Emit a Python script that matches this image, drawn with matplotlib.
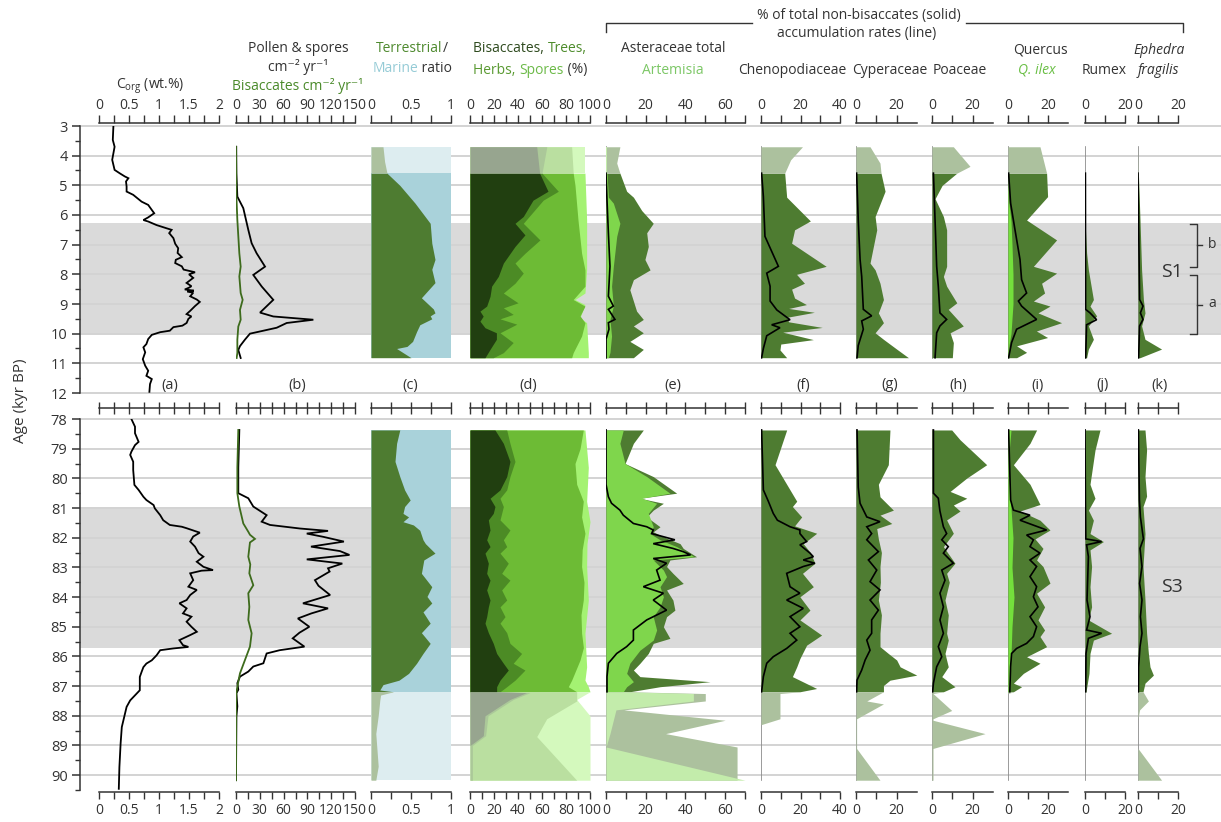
import numpy as np
import matplotlib
matplotlib.use("Agg")
import matplotlib.pyplot as plt
from matplotlib.lines import Line2D

# ---------------- data: (age kyr BP, value) ----------------
# (a) organic carbon, wt.%
corg_top = [(3.0, 0.24), (3.47, 0.23), (3.7, 0.26), (3.92, 0.24), (4.14, 0.22), (4.48, 0.26), (4.6, 0.35),
            (4.7, 0.43), (4.76, 0.49), (4.87, 0.45), (5.04, 0.46), (5.21, 0.46), (5.32, 0.57), (5.55, 0.71),
            (5.66, 0.82), (5.83, 0.88), (5.94, 0.92), (6.08, 0.82), (6.17, 0.74), (6.22, 0.82), (6.34, 0.96),
            (6.45, 1.13), (6.5, 1.21), (6.61, 1.17), (6.78, 1.24), (6.97, 1.27), (7.12, 1.32), (7.28, 1.31),
            (7.42, 1.38), (7.51, 1.28), (7.62, 1.27), (7.73, 1.38), (7.84, 1.41), (7.93, 1.6), (8.0, 1.5),
            (8.12, 1.57), (8.29, 1.46), (8.4, 1.54), (8.45, 1.5), (8.51, 1.43), (8.55, 1.58), (8.58, 1.47),
            (8.62, 1.57), (8.74, 1.52), (8.85, 1.63), (8.93, 1.68), (9.07, 1.6), (9.23, 1.52), (9.34, 1.46),
            (9.42, 1.54), (9.5, 1.49), (9.64, 1.46), (9.73, 1.39), (9.78, 1.24), (9.9, 1.18), (9.95, 1.02),
            (10.04, 0.88), (10.18, 0.82), (10.35, 0.79), (10.46, 0.74), (10.63, 0.77), (10.86, 0.73),
            (11.08, 0.77), (11.25, 0.82), (11.42, 0.79), (11.53, 0.88), (11.7, 0.85), (11.96, 0.84)]
corg_bot = [(78.0, 0.54), (78.26, 0.6), (78.48, 0.6), (78.77, 0.66), (78.88, 0.6), (79.1, 0.54), (79.21, 0.52),
            (79.44, 0.57), (79.72, 0.57), (80.22, 0.59), (80.39, 0.66), (80.62, 0.74), (80.73, 0.79),
            (80.9, 0.91), (81.01, 0.93), (81.24, 1.02), (81.41, 1.07), (81.57, 1.18), (81.63, 1.38),
            (81.68, 1.46), (81.83, 1.68), (81.96, 1.57), (82.13, 1.52), (82.3, 1.6), (82.52, 1.66),
            (82.64, 1.74), (82.81, 1.63), (82.98, 1.74), (83.09, 1.9), (83.11, 1.71), (83.2, 1.52),
            (83.43, 1.57), (83.65, 1.49), (83.76, 1.63), (83.93, 1.52), (84.1, 1.46), (84.21, 1.34),
            (84.38, 1.46), (84.55, 1.4), (84.66, 1.54), (84.83, 1.46), (85.0, 1.54), (85.17, 1.63),
            (85.28, 1.52), (85.45, 1.34), (85.62, 1.4), (85.68, 1.49), (85.73, 1.24), (85.79, 1.02),
            (85.96, 0.96), (86.13, 0.88), (86.24, 0.79), (86.36, 0.74), (86.52, 0.71), (86.69, 0.68),
            (87.14, 0.68), (87.31, 0.6), (87.48, 0.52), (87.7, 0.46), (88.04, 0.42), (88.38, 0.38),
            (88.94, 0.36), (89.73, 0.34), (90.46, 0.33)]

# (b) pollen & spores and bisaccate accumulation rates, grains cm-2 yr-1
pollen_top = [(3.7, 0.3), (4.6, 0.5), (5.38, 1.7), (5.77, 9.2), (6.5, 15.5), (6.95, 19.7), (7.29, 26),
              (7.74, 36.6), (8.02, 21.8), (8.41, 32.4), (8.86, 47), (9.29, 30.3), (9.42, 47), (9.53, 97.5),
              (9.64, 63.9), (9.8, 51.3), (9.9, 34.5), (10.0, 17.6), (10.2, 11.3), (10.42, 5), (10.55, 2.9),
              (10.82, 5.9)]
bisacc_top = [(3.7, 0), (5.38, 0.5), (6.17, 1.7), (7.29, 4.2), (7.74, 5.9), (8.07, 4.2), (8.63, 5.9),
              (8.86, 8.4), (9.2, 5), (9.53, 5.9), (9.76, 2.9), (10.2, 1.7), (10.65, 1.7), (10.82, 0.8)]
pollen_bot = [(78.37, 4.2), (79.63, 2.9), (80.5, 2.9), (80.67, 15.5), (80.95, 21.8), (81.24, 38.6),
              (81.46, 32.4), (81.57, 42.9), (81.69, 80.7), (81.77, 116), (81.86, 89.2), (81.97, 110),
              (82.13, 136), (82.3, 94.5), (82.45, 131), (82.58, 143), (82.73, 89.2), (82.87, 134),
              (83.03, 116), (83.14, 118), (83.43, 99.5), (83.62, 104), (83.93, 118.6), (84.21, 84.4),
              (84.38, 116), (84.55, 95), (84.72, 78), (85.0, 92.4), (85.2, 80), (85.39, 71.5),
              (85.67, 86.2), (85.79, 55), (85.9, 38.6), (86.23, 34.5), (86.34, 21.8), (86.51, 15.5),
              (86.68, 5), (86.9, 1.7), (87.12, 2.9), (87.24, 0.5), (87.68, 1.7), (88.02, 0.5), (90.17, 0)]
bisacc_bot = [(78.37, 2.9), (79.63, 1.7), (80.5, 1.7), (80.95, 4.2), (81.52, 9.2), (81.8, 15.5),
              (81.9, 17.6), (82.04, 23.9), (82.16, 17.6), (82.64, 15.5), (82.9, 18), (83.2, 16.8),
              (83.6, 21.8), (83.87, 15.5), (84.33, 16.8), (84.77, 15.5), (85.22, 19.7), (85.67, 17.6),
              (86.12, 11.3), (86.57, 5), (87.02, 1.7), (87.24, 0.3), (90.17, 0)]

# (c) terrestrial / marine ratio (terrestrial share)
terr_top = [(3.7, 0.15), (4.2, 0.17), (4.59, 0.2), (5.0, 0.36), (5.6, 0.55), (6.28, 0.74), (6.95, 0.76),
            (7.5, 0.8), (7.83, 0.76), (8.28, 0.8), (8.79, 0.63), (9.17, 0.78), (9.3, 0.8), (9.4, 0.74),
            (9.5, 0.76), (9.7, 0.61), (9.93, 0.57), (10.26, 0.52), (10.43, 0.45), (10.5, 0.32),
            (10.81, 0.5)]
terr_bot = [(78.37, 0.36), (78.82, 0.32), (79.43, 0.3), (79.94, 0.36), (80.39, 0.42), (80.73, 0.49),
            (80.95, 0.42), (81.18, 0.4), (81.3, 0.47), (81.46, 0.4), (81.57, 0.53), (81.75, 0.61),
            (82.07, 0.65), (82.2, 0.68), (82.52, 0.8), (82.75, 0.66), (83.2, 0.63), (83.65, 0.76),
            (83.98, 0.7), (84.2, 0.76), (84.5, 0.65), (84.88, 0.74), (85.2, 0.63), (85.56, 0.74),
            (85.9, 0.65), (86.23, 0.57), (86.57, 0.47), (86.8, 0.35), (86.95, 0.15), (87.13, 0.11),
            (87.19, 0.28), (87.3, 0.12), (87.48, 0.11), (88.0, 0.09), (88.6, 0.06), (89.7, 0.09),
            (90.17, 0.06)]

# (d) cumulative %: bisaccates, +trees, +herbs, +spores
bis_top = [(3.7, 55.6), (4.59, 58), (5.2, 65), (5.5, 52.5), (6.05, 44.4), (6.28, 37.5), (6.67, 45.8),
           (7.06, 37.5), (7.62, 27.8), (8.07, 23.6), (8.4, 18), (8.74, 16.7), (9.07, 13.9), (9.24, 8.3),
           (9.41, 11), (9.58, 8.3), (9.8, 12.5), (9.97, 22), (10.19, 22), (10.53, 16.7), (10.81, 12.5)]
trees_top = [(3.7, 64), (4.59, 60), (5.2, 73.6), (5.5, 61), (6.28, 44.4), (6.84, 58.3), (7.29, 45.8),
             (7.62, 37.5), (7.96, 44.4), (8.3, 37.5), (8.63, 27.8), (8.96, 40), (9.13, 27.8), (9.35, 36),
             (9.5, 25), (9.68, 39), (9.97, 25), (10.3, 36), (10.64, 27.8), (10.81, 19.4)]
herbs_top = [(3.7, 84.7), (4.59, 86), (5.0, 87.5), (6.17, 90), (7.29, 93), (7.85, 95.8), (8.4, 95.8),
             (8.85, 86), (9.07, 95.8), (9.4, 91.7), (9.63, 95.8), (10.08, 93), (10.64, 86), (10.81, 84.7)]
spores_top = [(3.7, 95.8), (4.59, 95.8), (6.17, 97.2), (7.85, 97.2), (8.63, 95.8), (8.85, 87.5),
              (9.02, 95.8), (9.46, 91.7), (9.63, 97.2), (10.64, 98.6), (10.81, 98.6)]
bis_bot = [(78.37, 20.8), (78.82, 27.8), (79.43, 33.3), (79.94, 30.6), (80.39, 25), (80.67, 16.7),
           (80.95, 20.8), (81.18, 19.4), (81.4, 15.3), (81.74, 16.7), (82.07, 13.9), (82.3, 16.7),
           (82.52, 12.5), (82.86, 15.3), (83.2, 13.9), (83.43, 16.7), (83.76, 13.9), (84.1, 16.7),
           (84.33, 15.3), (84.66, 13.9), (84.88, 12.5), (85.2, 15.3), (85.56, 19.4), (85.9, 22.2),
           (86.23, 27.8), (86.46, 31.9), (86.8, 25), (87.02, 22.2), (87.19, 22.2), (87.22, 47),
           (87.45, 33.3), (88.0, 12.5), (88.67, 11.1), (89.0, 0), (90.17, 0)]
trees_bot = [(78.37, 30.6), (78.82, 33.3), (79.43, 37.5), (79.94, 33.3), (80.39, 30.6), (80.67, 25),
             (80.95, 27.8), (81.4, 25), (81.74, 33.3), (82.07, 27.8), (82.3, 30.6), (82.52, 25),
             (82.86, 31.9), (83.2, 26.4), (83.43, 33.3), (83.76, 26.4), (84.1, 30.6), (84.33, 25),
             (84.66, 29.2), (84.88, 25), (85.2, 30.6), (85.56, 33.3), (85.9, 43), (86.23, 36),
             (86.46, 45.8), (86.8, 37.5), (87.02, 30.6), (87.19, 25), (87.22, 50), (87.45, 36),
             (88.0, 15), (88.67, 13), (89.0, 2), (90.17, 2)]
herbs_bot = [(78.37, 94.4), (79.0, 91.7), (79.5, 87.5), (80.2, 88.9), (80.77, 94.4), (81.3, 93),
             (81.85, 95.8), (82.4, 93.5), (82.97, 93), (83.5, 95), (84.1, 94.4), (84.6, 92.5),
             (85.22, 93), (85.7, 94.5), (86.12, 91.7), (86.8, 84.7), (87.02, 81.9), (87.19, 88.9),
             (87.5, 88.9), (88.1, 63.9), (88.7, 55.6), (90.17, 88.9)]
spores_bot = [(78.37, 95.8), (79.63, 98.6), (80.77, 97.2), (81.46, 100), (82.2, 97.5), (82.97, 97.2),
              (84.1, 98.6), (85.22, 95.8), (86.35, 97.2), (86.8, 95.8), (87.02, 98.6), (87.19, 100),
              (87.45, 88.9), (88.0, 100), (90.17, 100)]

# (e) Asteraceae total, Artemisia (%), and accumulation rate
aster_top = [(3.7, 7), (4.25, 5.4), (4.59, 7), (5.2, 10.4), (5.4, 13.8), (5.85, 18), (6.28, 23.8),
             (6.6, 20.5), (7.06, 21.3), (7.5, 19.6), (7.85, 22.2), (8.18, 13.8), (8.52, 12), (8.9, 13.8),
             (9.24, 15.4), (9.52, 18.8), (9.74, 13.8), (9.97, 18.8), (10.26, 12), (10.53, 18.8),
             (10.81, 13.8)]
artem_top = [(3.7, 0.5), (4.59, 0.5), (5.4, 1.2), (5.6, 3.7), (6.28, 7), (6.72, 5.4), (7.73, 3.7),
             (8.4, 2.8), (9.07, 3.7), (9.52, 2), (10.08, 2.8), (10.63, 2), (10.81, 1.2)]
aster_acc_top = [(4.59, 0), (5.5, 0.5), (6.61, 1.2), (7.73, 2), (8.74, 1.2), (9.07, 3.7), (9.18, 1.2),
                 (9.52, 4.5), (9.63, 1.2), (9.85, 1.5), (10.19, 0), (10.81, 0)]
aster_bot = [(78.37, 18.8), (78.82, 13.8), (79.5, 9.6), (79.94, 23.8), (80.5, 35.6), (80.67, 17.1),
             (80.84, 28.9), (81.07, 23.8), (81.3, 20.5), (81.63, 27.2), (81.8, 23.8), (81.97, 28.9),
             (82.2, 37.3), (82.36, 38.9), (82.64, 45.6), (82.75, 32.2), (82.97, 30.5), (83.2, 33.7),
             (83.54, 38.9), (83.76, 30.5), (84.1, 33.7), (84.44, 34.7), (84.66, 30.5), (85.0, 28.9),
             (85.39, 32.2), (85.56, 23.8), (85.9, 21.3), (86.23, 17.1), (86.46, 13.8), (86.68, 17.1),
             (86.85, 52.4), (87.02, 27.2), (87.19, 12), (87.25, 50), (87.5, 50), (87.8, 9),
             (88.15, 60), (88.6, 30), (89.05, 66), (90.17, 66)]
artem_bot = [(78.37, 8.7), (78.82, 7), (79.5, 9.6), (79.94, 20.5), (80.5, 32.2), (80.67, 18),
             (80.84, 25.5), (81.18, 21.3), (81.63, 23.8), (81.86, 22.2), (82.07, 27.2), (82.3, 35.6),
             (82.64, 44.3), (82.75, 23.8), (83.09, 28.9), (83.31, 30.5), (83.65, 27.2), (83.99, 28.9),
             (84.33, 27.2), (84.66, 23.8), (85.11, 25.5), (85.45, 23.8), (85.79, 17.1), (86.23, 12),
             (86.57, 10.4), (86.85, 13.8), (87.02, 10.4), (87.19, 8.7), (87.25, 44), (87.5, 44),
             (87.8, 5), (88.6, 2), (89.05, 0), (90.17, 70)]
aster_acc_bot = [(78.37, 0), (80.2, 0), (80.62, 1.2), (80.84, 2.8), (81.07, 7), (81.24, 8.7),
                 (81.52, 13.8), (81.63, 20.5), (81.74, 23.8), (81.86, 23), (82.07, 34.7), (82.2, 23.8),
                 (82.36, 33.7), (82.47, 38.9), (82.58, 42.6), (82.7, 23.8), (82.86, 30.5), (83.09, 25.5),
                 (83.43, 27.2), (83.65, 18.8), (83.87, 28.9), (84.1, 23.8), (84.44, 30.5), (84.77, 20.5),
                 (85.11, 13.8), (85.45, 13.8), (85.67, 10.4), (85.9, 5.4), (86.23, 1.2), (86.68, 0.5),
                 (87.19, 0.5)]

# (f) Chenopodiaceae
cheno_top = [(3.7, 21), (4.14, 15), (4.59, 12), (5.4, 13), (6.2, 25), (6.5, 17), (6.95, 15.5), (7.73, 33),
             (8.0, 18), (8.3, 22), (8.5, 15.5), (8.8, 17), (9.02, 23), (9.15, 14), (9.28, 27), (9.45, 13),
             (9.6, 14), (9.79, 31), (9.95, 11), (10.2, 26.5), (10.35, 10), (10.55, 9.6), (10.81, 13)]
cheno_acc_top = [(4.59, 0.3), (5.38, 1.2), (6.72, 2), (7.73, 8.8), (7.96, 2.9), (8.4, 4.6), (8.9, 4.6),
                 (9.2, 8), (9.53, 14.7), (9.7, 5.4), (9.8, 9.6), (10.07, 2.9), (10.5, 1.2), (10.81, 0.3)]
cheno_bot = [(78.37, 13), (79.54, 7.1), (80.77, 18.1), (80.95, 15.9), (81.3, 20.6), (81.6, 17),
             (81.85, 28.2), (82.2, 21.4), (82.5, 25), (82.86, 27.3), (83.2, 21), (83.65, 26.5),
             (83.99, 19.7), (84.44, 24.8), (84.77, 19.7), (85.28, 30.7), (85.62, 23.1), (86.07, 19.7),
             (86.35, 18.1), (86.68, 15.9), (87.08, 28.2), (87.19, 19.7), (87.25, 9.6), (88.1, 9.6),
             (88.3, 0), (90.17, 0)]
cheno_acc_bot = [(78.37, 0.3), (80.39, 1.2), (80.77, 3.7), (81.18, 6.2), (81.41, 8.3), (81.63, 14.7),
                 (81.74, 19.7), (81.86, 19.7), (82.13, 23.1), (82.24, 19.7), (82.52, 24.8), (82.64, 26.5),
                 (82.75, 21.4), (82.86, 27.3), (82.97, 21.4), (83.2, 13), (83.65, 14.7), (83.87, 19.7),
                 (84.1, 13), (84.38, 21.4), (84.66, 14.7), (85.0, 19.7), (85.22, 14.7), (85.45, 18.1),
                 (85.73, 13), (86.01, 6.2), (86.23, 2.9), (86.68, 1.2), (87.19, 0.3)]

# (g) Cyperaceae
cyper_top = [(3.7, 6.9), (4.25, 11.8), (4.59, 12.3), (5.2, 14.3), (6.05, 9.4), (6.5, 10.2), (7.62, 6.9),
             (7.85, 9.4), (8.3, 11.8), (8.85, 13.5), (9.3, 11), (9.63, 13.5), (9.97, 9.4), (10.19, 13.5),
             (10.52, 20), (10.81, 25.8)]
cyper_acc_top = [(4.59, 0.3), (6.17, 1.1), (7.5, 2), (8.07, 2.8), (9.18, 3.6), (9.4, 7.7), (9.57, 2.8),
                 (9.85, 3.6), (10.4, 1.1), (10.81, 0.5)]
cyper_bot = [(78.37, 16.7), (79.54, 15.9), (80.2, 11), (80.62, 11.8), (81.07, 18.4), (81.24, 11.8),
             (81.52, 17.6), (81.69, 10.2), (82.04, 11), (82.5, 12.5), (82.97, 11.8), (83.5, 12),
             (84.1, 11), (84.6, 12.5), (85.22, 11.8), (85.67, 11.8), (85.9, 15.9), (86.12, 20),
             (86.35, 21.7), (86.63, 29.9), (86.8, 16.7), (86.98, 13.5), (87.19, 13.5), (87.5, 5.3),
             (87.6, 13.5), (88.1, 0.3), (89.1, 0.3), (90.17, 11.8)]
cyper_acc_bot = [(78.37, 0.5), (80.3, 1.1), (80.84, 2), (81.3, 5.3), (81.46, 11.8), (81.63, 5.3),
                 (81.86, 7.7), (82.07, 5.3), (82.47, 11), (82.75, 6.1), (83.09, 10.2), (83.48, 6.9),
                 (83.76, 11.8), (84.1, 6.9), (84.44, 11), (84.77, 7.7), (85.22, 7.7), (85.45, 5.3),
                 (85.79, 6.9), (86.12, 4.5), (86.46, 2.8), (86.8, 0.5), (87.19, 0.3)]

# (h) Poaceae
poa_top = [(3.7, 10.5), (4.36, 18.7), (4.59, 12.2), (5.0, 5), (5.45, 1.5), (6.05, 5.6), (6.5, 7.2),
           (7.73, 7.2), (8.07, 5.6), (8.4, 7.2), (8.96, 12.2), (9.18, 8), (9.74, 15.4), (9.97, 8.9),
           (10.3, 10.5), (10.81, 10)]
poa_acc_top = [(4.59, 0.7), (6.17, 1.5), (7.73, 2.3), (8.4, 3.1), (9.3, 3.9), (9.52, 7.2), (9.74, 3.9),
               (9.97, 2.3), (10.81, 1.5)]
poa_bot = [(78.37, 9.7), (78.7, 13.8), (79.54, 26.9), (79.99, 17.1), (80.44, 8.9), (80.67, 17.1),
           (80.9, 10.5), (81.1, 13.8), (81.4, 7.2), (81.85, 10.5), (82.3, 5.6), (82.86, 11.3), (83.2, 7.2),
           (83.5, 8.5), (84.1, 6.4), (84.6, 8), (85.22, 7.2), (85.45, 8), (85.9, 6.4), (86.35, 8),
           (86.68, 4.8), (87.02, 11.3), (87.19, 5.6), (87.25, 0.5), (87.82, 9.7), (88.1, 0.5),
           (88.15, 0.5), (88.6, 26.1), (89.1, 0.5), (90.17, 0.5)]
poa_acc_bot = [(78.37, 0.7), (80.5, 0.7), (80.67, 3.1), (81.1, 3.9), (81.63, 5.6), (81.86, 7.2),
               (82.07, 4.8), (82.3, 8), (82.52, 5.6), (82.86, 10.5), (83.09, 4.8), (83.43, 6.4),
               (83.87, 3.9), (84.33, 5.6), (84.77, 3.9), (85.22, 5.6), (85.67, 3.1), (86.01, 4.8),
               (86.35, 2.3), (86.9, 0.7), (87.19, 0.3)]

# (i) Quercus, Q. ilex
querc_top = [(3.7, 16), (4.59, 19.3), (5.38, 19.8), (6.17, 9.3), (6.84, 24.3), (7.73, 12.7), (7.96, 24.3),
             (8.3, 16.8), (8.63, 18.3), (8.9, 12.7), (9.07, 21), (9.3, 15), (9.63, 26.8), (9.91, 14.2),
             (10.13, 19.8), (10.41, 4.3), (10.63, 9.3), (10.81, 4.3)]
ilex_top = [(4.59, 0), (5.5, 0.3), (6.2, 1.5), (7.0, 2), (8.0, 2.5), (9.0, 2.5), (9.5, 2), (10.0, 1.5),
            (10.4, 0.5), (10.81, 0.3)]
querc_acc_top = [(4.59, 0.3), (5.6, 1.3), (6.5, 3.5), (7.5, 6), (8.18, 6.8), (8.63, 9.3), (8.9, 5.2),
                 (9.07, 6.8), (9.52, 14.3), (9.85, 4.3), (10.3, 1.8), (10.81, 0.3)]
querc_bot = [(78.37, 14.3), (78.82, 11), (79.54, 2.7), (80.2, 11), (80.88, 16), (81.1, 6), (81.41, 16),
             (81.74, 21), (82.04, 13.5), (82.36, 17.5), (82.75, 14.3), (82.97, 17.5), (83.53, 21),
             (83.87, 14.3), (84.33, 18.3), (84.77, 15), (85.11, 18.3), (85.33, 16), (85.67, 19.3),
             (86.01, 9.3), (86.23, 16), (86.57, 7.7), (86.9, 2.7), (87.02, 6.8), (87.19, 2.7),
             (87.25, 0), (90.17, 0)]
ilex_bot = [(78.37, 1.5), (79.0, 0.7), (80.0, 0.5), (81.0, 1.5), (82.0, 2.5), (83.0, 2), (84.0, 3),
            (84.5, 2.5), (85.0, 2), (86.0, 1.5), (87.0, 1), (87.19, 0.8)]
querc_acc_bot = [(78.37, 0.3), (80.73, 1.3), (81.07, 2.7), (81.24, 11), (81.41, 6), (81.74, 19.3),
                 (81.91, 9.3), (82.07, 12.7), (82.3, 11), (82.52, 16), (82.75, 11), (82.97, 14.3),
                 (83.31, 11), (83.65, 14.3), (83.99, 12.7), (84.33, 15), (84.66, 11), (85.0, 14.3),
                 (85.33, 12.7), (85.56, 9.3), (85.73, 4.3), (85.9, 1.8), (86.35, 1.3), (87.19, 0.9)]

# (j) Rumex
rumex_top = [(3.7, 0), (4.59, 0), (6.17, 0), (7.28, 0.8), (7.85, 1.7), (8.85, 4.2), (9.07, 2.5),
             (9.4, 5.8), (9.74, 1.7), (10.19, 4.2), (10.52, 1.7), (10.81, 0.8)]
rumex_acc_top = [(4.59, 0.2), (9.18, 0.3), (9.3, 2.5), (9.53, 5.8), (9.7, 0.8), (10.81, 0.3)]
rumex_bot = [(78.37, 7.5), (79.05, 5), (80.2, 2.5), (80.67, 5), (81.07, 1.7), (81.41, 4.2), (81.86, 2.5),
             (82.13, 9.2), (82.41, 2.5), (82.97, 3.3), (83.65, 2.5), (84.33, 3.3), (84.77, 1.7),
             (85.22, 13.3), (85.45, 4.2), (85.9, 2.5), (86.57, 2), (87.19, 0.5), (87.25, 0), (90.17, 0)]
rumex_acc_bot = [(78.37, 0), (80.73, 0.2), (82.04, 0.4), (82.13, 8.3), (82.24, 0.8), (82.64, 1.7),
                 (84.1, 1), (84.66, 2.5), (85.11, 0.8), (85.22, 8.3), (85.39, 1.7), (85.9, 0.5),
                 (87.19, 0.3)]

# (k) Ephedra fragilis
ephed_top = [(3.7, 0), (4.59, 0.2), (6.17, 1), (7.85, 1.8), (8.85, 2.7), (9.3, 3.5), (9.74, 1.8),
             (10.19, 3.5), (10.52, 11.8), (10.81, 1)]
ephed_acc_top = [(4.59, 0), (8.85, 0.8), (9.07, 2.5), (9.3, 1.2), (9.52, 2.5), (9.74, 0.8), (10.81, 0.3)]
ephed_bot = [(78.37, 3.5), (79.05, 4.3), (79.94, 3.5), (80.6, 4.3), (80.95, 2.5), (81.86, 3.5),
             (82.97, 2.5), (84.1, 3.5), (85.22, 4.3), (85.9, 5.2), (86.35, 6), (86.63, 7.7), (86.9, 3.5),
             (87.19, 2.5), (87.5, 5.2), (87.8, 0.8), (88.1, 0), (89.1, 0), (90.17, 11.8)]
ephed_acc_bot = [(78.37, 0.2), (80.73, 0.7), (81.3, 1.2), (82.04, 2.7), (82.36, 1), (82.97, 2),
                 (83.54, 0.8), (84.1, 2), (84.66, 1.2), (85.22, 2), (85.67, 1), (86.35, 0.3), (87.19, 0.2)]

# sapropel intervals (kyr BP)
s1_band = (6.27, 10.0)
s3_band = (80.97, 85.72)

# ---------------- style ----------------
plt.rcParams['font.family'] = ['Open Sans', 'DejaVu Sans']
plt.rcParams['mathtext.fontset'] = 'custom'
plt.rcParams['mathtext.rm'] = 'Open Sans'
plt.rcParams['mathtext.it'] = 'Open Sans:italic'
plt.rcParams['mathtext.default'] = 'regular'

INK = '#333333'
GREEN = '#4e7c31'
LINE_GREEN = '#3d6b1c'
BLUE = '#a9d2da'
ART = '#7fd64c'
ILEX = '#74e03c'
D_COLS = ['#213f10', '#4c8b25', '#6dbb35', '#a4f272']

W, H = 1221, 822
fig = plt.figure(figsize=(W / 100, H / 100), dpi=100)
R = fig.canvas.get_renderer()


def fx(x):
    return x / W


def fy(y):
    return 1 - y / H


def wash(c, a=0.47):
    rgb = np.array(matplotlib.colors.to_rgb(c))
    return tuple(a * rgb + (1 - a))


def arr(pairs):
    a = np.array(pairs, dtype=float)
    return a[:, 0], a[:, 1]


rows = {
    'top': dict(lim=(3, 12), y0=126, y1=393, start=3.7, end=10.81, cut=4.59, shade=s1_band),
    'bot': dict(lim=(78, 90.5), y0=419, y1=790, start=78.37, end=90.17, cut=87.19, shade=s3_band),
}

# background: age axis, grid and sapropel shading
for key, r in rows.items():
    y0, y1 = r['y0'], r['y1']
    bg = fig.add_axes([fx(80), fy(y1), fx(W - 80), (y1 - y0) / H], zorder=0)
    bg.set_facecolor('none')
    bg.set_xlim(0, 1)
    bg.set_ylim(r['lim'][1], r['lim'][0])
    bg.axhspan(*r['shade'], color='#dadada', lw=0, zorder=0)
    for a in range(int(r['lim'][0]), int(r['lim'][1]) + 1):
        bg.axhline(a, color='#d3d3d3', lw=1.4, zorder=1, clip_on=False)
    for s in ['top', 'right', 'bottom']:
        bg.spines[s].set_visible(False)
    bg.spines['left'].set_color(INK)
    bg.spines['left'].set_linewidth(1.1)
    bg.set_xticks([])
    bg.set_yticks(range(int(r['lim'][0]), int(r['lim'][1]) + 1))
    bg.set_yticks(np.arange(r['lim'][0] + 0.5, r['lim'][1] + 0.01, 1.0), minor=True)
    bg.tick_params(axis='y', which='major', length=6, width=1.1, colors=INK, labelsize=10.5, pad=3)
    bg.tick_params(axis='y', which='minor', length=3.5, width=1.0, colors=INK)

# panel geometry: name, x0, x1 (px), xmax, tick step, label values, letter x
panels = [
    ('a', 99, 219, 2.0, 0.25, [0, 0.5, 1, 1.5, 2], 170),
    ('b', 236, 355, 150, 15, [0, 30, 60, 90, 120, 150], 297),
    ('c', 371, 451, 1.0, 0.25, [0, 0.5, 1], 410),
    ('d', 470, 590, 100, 10, [0, 20, 40, 60, 80, 100], 528),
    ('e', 606, 745, 70, 10, [0, 20, 40, 60], 673),
    ('f', 761, 840, 40, 10, [0, 20, 40], 803),
    ('g', 856, 917, 30, 10, [0, 20], 890),
    ('h', 932, 993, 30, 10, [0, 20], 958),
    ('i', 1008, 1068, 30, 10, [0, 20], 1038),
    ('j', 1085, 1125, 20, 10, [0, 20], 1103),
    ('k', 1138, 1178, 20, 10, [0, 20], 1160),
]

axes = {}
for name, x0, x1, xmax, step, labs, lx in panels:
    ticks = np.round(np.arange(0, xmax + step * 0.01, step), 3)
    if name in 'ghi':
        ticks = ticks[ticks <= 20]
    tlabels = ['%g' % t if any(abs(t - l) < 1e-9 for l in labs) else '' for t in ticks]
    for key, r in rows.items():
        y0, y1 = r['y0'], r['y1']
        ax = fig.add_axes([fx(x0), fy(y1), fx(x1 - x0), (y1 - y0) / H], zorder=2)
        ax.set_facecolor('none')
        ax.set_xlim(0, xmax)
        ax.set_ylim(r['lim'][1], r['lim'][0])
        ax.set_yticks([])
        for s in ['left', 'right']:
            ax.spines[s].set_visible(False)
        ax.set_xticks(ticks)
        ax.set_xticklabels(tlabels)
        if key == 'top':
            ax.spines['bottom'].set_visible(False)
            ax.spines['top'].set_position(('outward', 2.2))
            ax.xaxis.set_ticks_position('top')
            ax.xaxis.set_label_position('top')
            ax.tick_params(axis='x', direction='out', length=6, width=1.0, colors=INK,
                           labelsize=10, pad=1.5)
        else:
            ax.spines['top'].set_visible(False)
            ax.spines['bottom'].set_position(('outward', 1.5))
            ax.tick_params(axis='x', direction='out', length=5, width=1.0, colors=INK,
                           labelsize=10, pad=3)
            sec = ax.secondary_xaxis(1 + 11 / (y1 - y0))
            sec.set_xticks(ticks)
            sec.set_xticklabels([])
            sec.tick_params(axis='x', direction='inout', length=8, width=1.0, colors=INK)
            sec.spines['top'].set_color(INK)
            sec.spines['top'].set_linewidth(1.1)
        for s in ['top', 'bottom']:
            ax.spines[s].set_color(INK)
            ax.spines[s].set_linewidth(1.1)
        axes[(name, key)] = ax
    fig.text(fx(lx), fy(385), '(%s)' % name, ha='center', va='center', fontsize=10.5, color=INK)


def layer(ax, pairs, color, key, z=2):
    age, val = arr(pairs)
    cut = rows[key]['cut']
    if key == 'top':
        solid, washed = age >= cut, age <= cut
    else:
        solid, washed = age <= cut, age >= cut
    if solid.sum() > 1:
        ax.fill_betweenx(age[solid], 0, val[solid], color=color, lw=0, zorder=z)
    if washed.sum() > 1:
        ax.fill_betweenx(age[washed], 0, val[washed], color=wash(color), lw=0, zorder=z)


def line(ax, pairs, color='black', lw=1.3, z=5):
    age, val = arr(pairs)
    ax.plot(val, age, color=color, lw=lw, zorder=z, solid_joinstyle='miter')


def zero_line(ax, key):
    r = rows[key]
    ax.plot([0, 0], [r['start'], r['end']], color='#8a8a8a', lw=1.2, zorder=1)


# (a)
line(axes[('a', 'top')], corg_top)
line(axes[('a', 'bot')], corg_bot)

# (b)
for key, pol, bis in [('top', pollen_top, bisacc_top), ('bot', pollen_bot, bisacc_bot)]:
    line(axes[('b', key)], pol)
    line(axes[('b', key)], bis, color=LINE_GREEN, z=6)

# (c)
for key, terr in [('top', terr_top), ('bot', terr_bot)]:
    ax = axes[('c', key)]
    r = rows[key]
    if key == 'top':
        ax.fill_betweenx([r['start'], r['cut']], 0, 1, color=wash(BLUE, 0.4), lw=0, zorder=1)
        ax.fill_betweenx([r['cut'], r['end']], 0, 1, color=BLUE, lw=0, zorder=1)
    else:
        ax.fill_betweenx([r['start'], r['cut']], 0, 1, color=BLUE, lw=0, zorder=1)
        ax.fill_betweenx([r['cut'], r['end']], 0, 1, color=wash(BLUE, 0.4), lw=0, zorder=1)
    layer(ax, terr, GREEN, key)

# (d) stacked: draw outermost first, darkest on top
for key, stack in [('top', [spores_top, herbs_top, trees_top, bis_top]),
                   ('bot', [spores_bot, herbs_bot, trees_bot, bis_bot])]:
    for z, (pairs, col) in enumerate(zip(stack, D_COLS[::-1])):
        layer(axes[('d', key)], pairs, col, key, z=2 + z)

# (e)
for key, ast, art, acc in [('top', aster_top, artem_top, aster_acc_top),
                           ('bot', aster_bot, artem_bot, aster_acc_bot)]:
    ax = axes[('e', key)]
    zero_line(ax, key)
    layer(ax, ast, GREEN, key, z=2)
    layer(ax, art, ART, key, z=3)
    line(ax, acc, lw=1.2)

# (f)-(k)
single = [('f', cheno_top, cheno_acc_top, cheno_bot, cheno_acc_bot),
          ('g', cyper_top, cyper_acc_top, cyper_bot, cyper_acc_bot),
          ('h', poa_top, poa_acc_top, poa_bot, poa_acc_bot),
          ('i', querc_top, querc_acc_top, querc_bot, querc_acc_bot),
          ('j', rumex_top, rumex_acc_top, rumex_bot, rumex_acc_bot),
          ('k', ephed_top, ephed_acc_top, ephed_bot, ephed_acc_bot)]
for name, ft, at, fb, ab in single:
    for key, f, a in [('top', ft, at), ('bot', fb, ab)]:
        ax = axes[(name, key)]
        zero_line(ax, key)
        layer(ax, f, GREEN, key, z=2)
        line(ax, a, lw=1.2)
layer(axes[('i', 'top')], ilex_top, ILEX, 'top', z=3)
layer(axes[('i', 'bot')], ilex_bot, ILEX, 'bot', z=3)

# ---------------- annotations ----------------
def ftext(x, y, s, **kw):
    kw.setdefault('ha', 'center')
    kw.setdefault('va', 'center')
    kw.setdefault('fontsize', 10)
    kw.setdefault('color', INK)
    return fig.text(fx(x), fy(y), s, **kw)


def multicolor(xc, y, parts, size=10):
    arts = [fig.text(0, fy(y), s, color=c, ha='left', va='center', fontsize=size) for s, c in parts]
    widths = [a.get_window_extent(R).width for a in arts]
    x = xc - sum(widths) / 2
    for a, w in zip(arts, widths):
        a.set_x(fx(x))
        x += w


def fline(xs, ys, lw=1.0):
    fig.add_artist(Line2D([fx(x) for x in xs], [fy(y) for y in ys], transform=fig.transFigure,
                          color=INK, lw=lw))


ftext(150, 86, r'C$_{\mathrm{org}}$ (wt.%)')
ftext(298, 48, 'Pollen & spores')
ftext(298, 67, 'cm⁻² yr⁻¹')
ftext(298, 86, 'Bisaccates cm⁻² yr⁻¹', color='#4a8a2a')
multicolor(412, 48, [('Terrestrial', '#4f8a2f'), ('/', INK)])
multicolor(412, 69, [('Marine', '#95cbd6'), (' ratio', INK)])
multicolor(530, 48, [('Bisaccates, ', '#2e4a1e'), ('Trees,', '#4e8c2c')])
multicolor(530, 70, [('Herbs, ', '#5a9a32'), ('Spores', '#6cba48'), (' (%)', INK)])
ftext(673, 49, 'Asteraceae total')
ftext(673, 70, 'Artemisia', color='#7cc766')
ftext(792, 70, 'Chenopodiaceae')
ftext(890, 70, 'Cyperaceae')
ftext(960, 70, 'Poaceae')
ftext(1040, 50, 'Quercus')
ftext(1037, 70, 'Q. ilex', color='#6abf45', style='italic')
ftext(1104, 70, 'Rumex')
ftext(1159, 50, 'Ephedra', style='italic')
ftext(1158, 70, 'fragilis', style='italic')

ftext(859, 15, '% of total non-bisaccates (solid)')
ftext(857, 33, 'accumulation rates (line)')
fline([606, 606, 752], [32, 23, 23])
fline([966, 1183, 1183], [23, 23, 32])

ftext(21, 401, 'Age (kyr BP)', rotation=90, fontsize=11)

# sapropel brackets
for top, bot, lab in [(224, 267, 'b'), (275, 334, 'a')]:
    mid = (top + bot) / 2
    fline([1190, 1197, 1197, 1190], [top, top, bot, bot])
    fline([1197, 1202], [mid, mid])
    ftext(1208, mid - 1, lab, ha='left', fontsize=10)
ftext(1172, 272, 'S1', fontsize=14)
ftext(1172, 587, 'S3', fontsize=14)

fig.savefig('out.png', dpi=100)
